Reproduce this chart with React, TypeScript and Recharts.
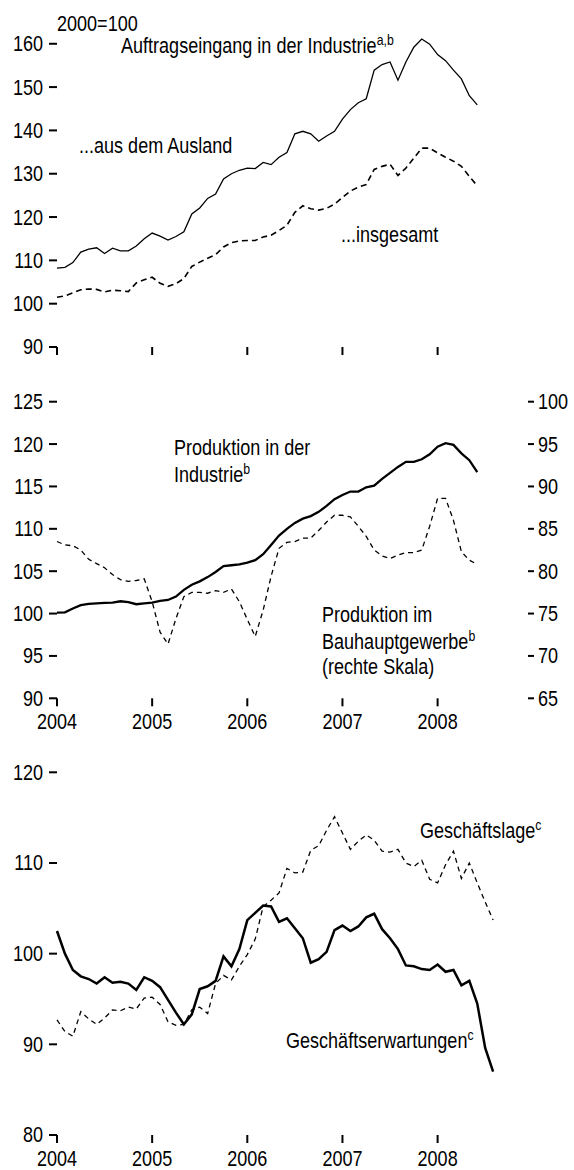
import { LineChart, Line, XAxis, YAxis } from 'recharts';

const FONT = "'Liberation Sans', Arial, sans-serif";
const NARROW = 0.82; // Arial Narrow look from Liberation Sans

// monthly, Jan 2004 onwards
const years = [2004, 2005, 2006, 2007, 2008];

// panel 1: Auftragseingang in der Industrie (2000=100)
const ausland = [
  108.2, 108.4, 109.5, 111.9, 112.6, 112.9, 111.6, 112.8, 112.2, 112.2, 113.3, 115.0,
  116.3, 115.6, 114.7, 115.5, 116.6, 120.7, 122.1, 124.3, 125.3, 128.8, 130.0, 130.8,
  131.3, 131.2, 132.6, 132.1, 133.8, 134.9, 139.2, 139.8, 139.2, 137.5, 138.7, 139.8,
  142.6, 144.8, 146.4, 147.3, 153.9, 155.2, 155.8, 151.6, 155.8, 159.2, 161.1, 159.9,
  157.5, 156.1, 153.9, 151.9, 148.0, 145.9,
];
const insgesamt = [
  101.5, 101.8, 102.5, 103.2, 103.4, 103.3, 102.7, 103.1, 103.0, 102.8, 104.8, 105.5,
  106.1, 104.7, 104.0, 104.6, 105.8, 108.6, 109.6, 110.5, 111.3, 113.1, 114.1, 114.5,
  114.6, 114.6, 115.4, 115.8, 116.9, 118.1, 121.1, 122.6, 121.9, 121.6, 122.0, 123.0,
  124.5, 126.0, 126.9, 127.5, 131.0, 131.7, 132.2, 129.6, 131.3, 133.6, 135.9, 135.9,
  134.8, 133.8, 132.9, 131.7, 129.4, 127.2,
];

// panel 2: Produktion
const industrie = [
  100.1, 100.15, 100.6, 101.0, 101.15, 101.2, 101.25, 101.3, 101.45, 101.35, 101.1, 101.2,
  101.3, 101.5, 101.6, 102.0, 102.8, 103.4, 103.8, 104.3, 104.9, 105.6, 105.7, 105.8,
  106.0, 106.3, 107.0, 108.1, 109.2, 110.0, 110.7, 111.2, 111.5, 112.0, 112.7, 113.5,
  114.0, 114.4, 114.4, 114.9, 115.1, 115.9, 116.6, 117.3, 117.9, 117.9, 118.2, 118.8,
  119.7, 120.1, 119.9, 118.9, 118.1, 116.7,
];
const bau = [
  83.5, 83.1, 83.0, 82.5, 81.4, 80.9, 80.4, 79.6, 79.0, 78.8, 78.9, 79.1,
  76.4, 72.8, 71.4, 74.4, 77.0, 77.5, 77.5, 77.4, 77.7, 77.5, 77.9, 76.4,
  74.3, 72.3, 75.4, 79.4, 82.7, 83.4, 83.5, 83.9, 83.9, 84.8, 85.8, 86.6,
  86.6, 86.4, 85.3, 84.1, 82.5, 81.8, 81.5, 81.9, 82.2, 82.2, 82.5, 85.3,
  88.6, 88.6, 86.0, 82.3, 81.3, 80.8,
];

// panel 3: Geschäftsklima
const erwartungen = [
  102.5, 100.0, 98.2, 97.5, 97.2, 96.7, 97.4, 96.8, 96.9, 96.7, 96.0, 97.4,
  97.0, 96.3, 94.9, 93.5, 92.2, 93.3, 96.1, 96.4, 97.0, 99.7, 98.6, 100.5,
  103.7, 104.5, 105.3, 105.2, 103.5, 103.9, 102.8, 101.7, 99.0, 99.4, 100.2, 102.6,
  103.1, 102.5, 103.0, 104.0, 104.4, 102.7, 101.7, 100.5, 98.7, 98.6, 98.3, 98.2,
  98.8, 98.0, 98.2, 96.5, 97.0, 94.5, 89.6, 87.0,
];
const lage = [
  92.7, 91.4, 90.9, 93.6, 92.8, 92.2, 92.9, 93.8, 93.7, 94.1, 93.9, 95.1,
  95.2, 94.4, 92.5, 92.1, 92.2, 93.8, 94.1, 93.4, 96.7, 97.6, 97.1, 98.6,
  99.9, 101.6, 105.2, 105.9, 106.7, 109.4, 108.9, 109.0, 111.4, 111.9, 113.6, 115.1,
  113.3, 111.5, 112.4, 113.1, 112.5, 111.3, 111.2, 111.5, 110.0, 109.6, 110.3, 108.2,
  107.8, 109.8, 111.3, 108.3, 110.0, 107.8, 105.7, 103.7,
];

const ticks1 = [90, 100, 110, 120, 130, 140, 150, 160];
const ticks2 = [90, 95, 100, 105, 110, 115, 120, 125];
const ticks2r = [65, 70, 75, 80, 85, 90, 95, 100];
const ticks3 = [80, 90, 100, 110, 120];

function monthly(series: Record<string, number[]>) {
  const keys = Object.keys(series);
  const n = Math.max(...keys.map((k) => series[k].length));
  return Array.from({ length: n }, (_, i) => {
    const row: Record<string, number> = { t: 2004 + i / 12 };
    keys.forEach((k) => { if (i < series[k].length) row[k] = series[k][i]; });
    return row;
  });
}

const data1 = monthly({ ausland, insgesamt });
const data2 = monthly({ industrie, bau });
const data3 = monthly({ erwartungen, lage });

const tickLine = { stroke: '#000', strokeWidth: 2 };

function NarrowTick(props: any) {
  const { x, y, payload, textAnchor, verticalAnchor, hide } = props;
  if (hide) return <g />;
  const dy = verticalAnchor === 'start' ? '0.71em' : verticalAnchor === 'end' ? '0' : '0.34em';
  return (
    <g transform={`translate(${x},${y}) scale(${NARROW},1)`}>
      <text textAnchor={textAnchor} dy={dy} fontSize={22} fontFamily={FONT} fill="#000">
        {payload.value}
      </text>
    </g>
  );
}

function xAxis(height: number, labels: boolean) {
  return (
    <XAxis
      dataKey="t"
      type="number"
      domain={[2004, 2008.95]}
      ticks={years}
      interval={0}
      height={height}
      axisLine={false}
      tickLine={tickLine}
      tickSize={8}
      tickMargin={7}
      tick={(p: any) => <NarrowTick {...p} hide={!labels} />}
    />
  );
}

function leftAxis(domain: number[], ticks: number[]) {
  return (
    <YAxis
      yAxisId="l"
      domain={domain}
      ticks={ticks}
      interval={0}
      width={57}
      axisLine={false}
      tickLine={tickLine}
      tickSize={8}
      tickMargin={6}
      tick={NarrowTick}
    />
  );
}

function Auftrag() {
  return (
    <LineChart width={574} height={370} data={data1} margin={{ top: 39, right: 46, left: 0, bottom: 0 }}>
      {xAxis(23, false)}
      {leftAxis([90, 160], ticks1)}
      <Line yAxisId="l" dataKey="ausland" stroke="#000" strokeWidth={1.3} dot={false} isAnimationActive={false} />
      <Line yAxisId="l" dataKey="insgesamt" stroke="#000" strokeWidth={1.6} strokeDasharray="6 4" dot={false} isAnimationActive={false} />
    </LineChart>
  );
}

function Produktion() {
  return (
    <LineChart width={574} height={385} data={data2} margin={{ top: 31.7, right: 0, left: 0, bottom: 0 }}>
      {xAxis(56.7, true)}
      {leftAxis([90, 125], ticks2)}
      <YAxis
        yAxisId="r"
        orientation="right"
        domain={[65, 100]}
        ticks={ticks2r}
        interval={0}
        width={46}
        axisLine={false}
        tickLine={tickLine}
        tickSize={6}
        tickMargin={4}
        tick={NarrowTick}
      />
      <Line yAxisId="r" dataKey="bau" stroke="#000" strokeWidth={1.3} strokeDasharray="5 4" dot={false} isAnimationActive={false} />
      <Line yAxisId="l" dataKey="industrie" stroke="#000" strokeWidth={2.3} dot={false} isAnimationActive={false} />
    </LineChart>
  );
}

function Ifo() {
  return (
    <LineChart width={574} height={440} data={data3} margin={{ top: 42.3, right: 46, left: 0, bottom: 0 }}>
      {xAxis(35, true)}
      {leftAxis([80, 120], ticks3)}
      <Line yAxisId="l" dataKey="lage" stroke="#000" strokeWidth={1.3} strokeDasharray="5 4" dot={false} isAnimationActive={false} />
      <Line yAxisId="l" dataKey="erwartungen" stroke="#000" strokeWidth={2.5} dot={false} isAnimationActive={false} />
    </LineChart>
  );
}

function Note({ x, y, text, sup }: { x: number; y: number; text: string; sup?: string }) {
  return (
    <g transform={`translate(${x},${y}) scale(${NARROW},1)`}>
      <text fontFamily={FONT} fontSize={22} fill="#000">
        {text}
        {sup && <tspan fontSize={15} dy={-8}>{sup}</tspan>}
      </text>
    </g>
  );
}

function Notes() {
  return (
    <svg width={574} height={1170} style={{ position: 'absolute', left: 0, top: 0, pointerEvents: 'none' }}>
      <Note x={57} y={31} text="2000=100" />
      <Note x={121} y={53} text="Auftragseingang in der Industrie" sup="a,b" />
      <Note x={79} y={153} text="...aus dem Ausland" />
      <Note x={341} y={242} text="...insgesamt" />

      <Note x={174} y={455} text="Produktion in der" />
      <Note x={174} y={482} text="Industrie" sup="b" />
      <Note x={322} y={622} text="Produktion im" />
      <Note x={322} y={649} text="Bauhauptgewerbe" sup="b" />
      <Note x={322} y={674} text="(rechte Skala)" />

      <Note x={420} y={838} text="Geschäftslage" sup="c" />
      <Note x={286} y={1048} text="Geschäftserwartungen" sup="c" />
    </svg>
  );
}

export default function App() {
  return (
    <div style={{ position: 'absolute', left: 0, top: 0, width: 574, height: 1170, background: '#fff', fontFamily: FONT }}>
      <div style={{ position: 'absolute', left: 0, top: 0 }}><Auftrag /></div>
      <div style={{ position: 'absolute', left: 0, top: 730 }}><Ifo /></div>
      <div style={{ position: 'absolute', left: 0, top: 370 }}><Produktion /></div>
      <Notes />
    </div>
  );
}
